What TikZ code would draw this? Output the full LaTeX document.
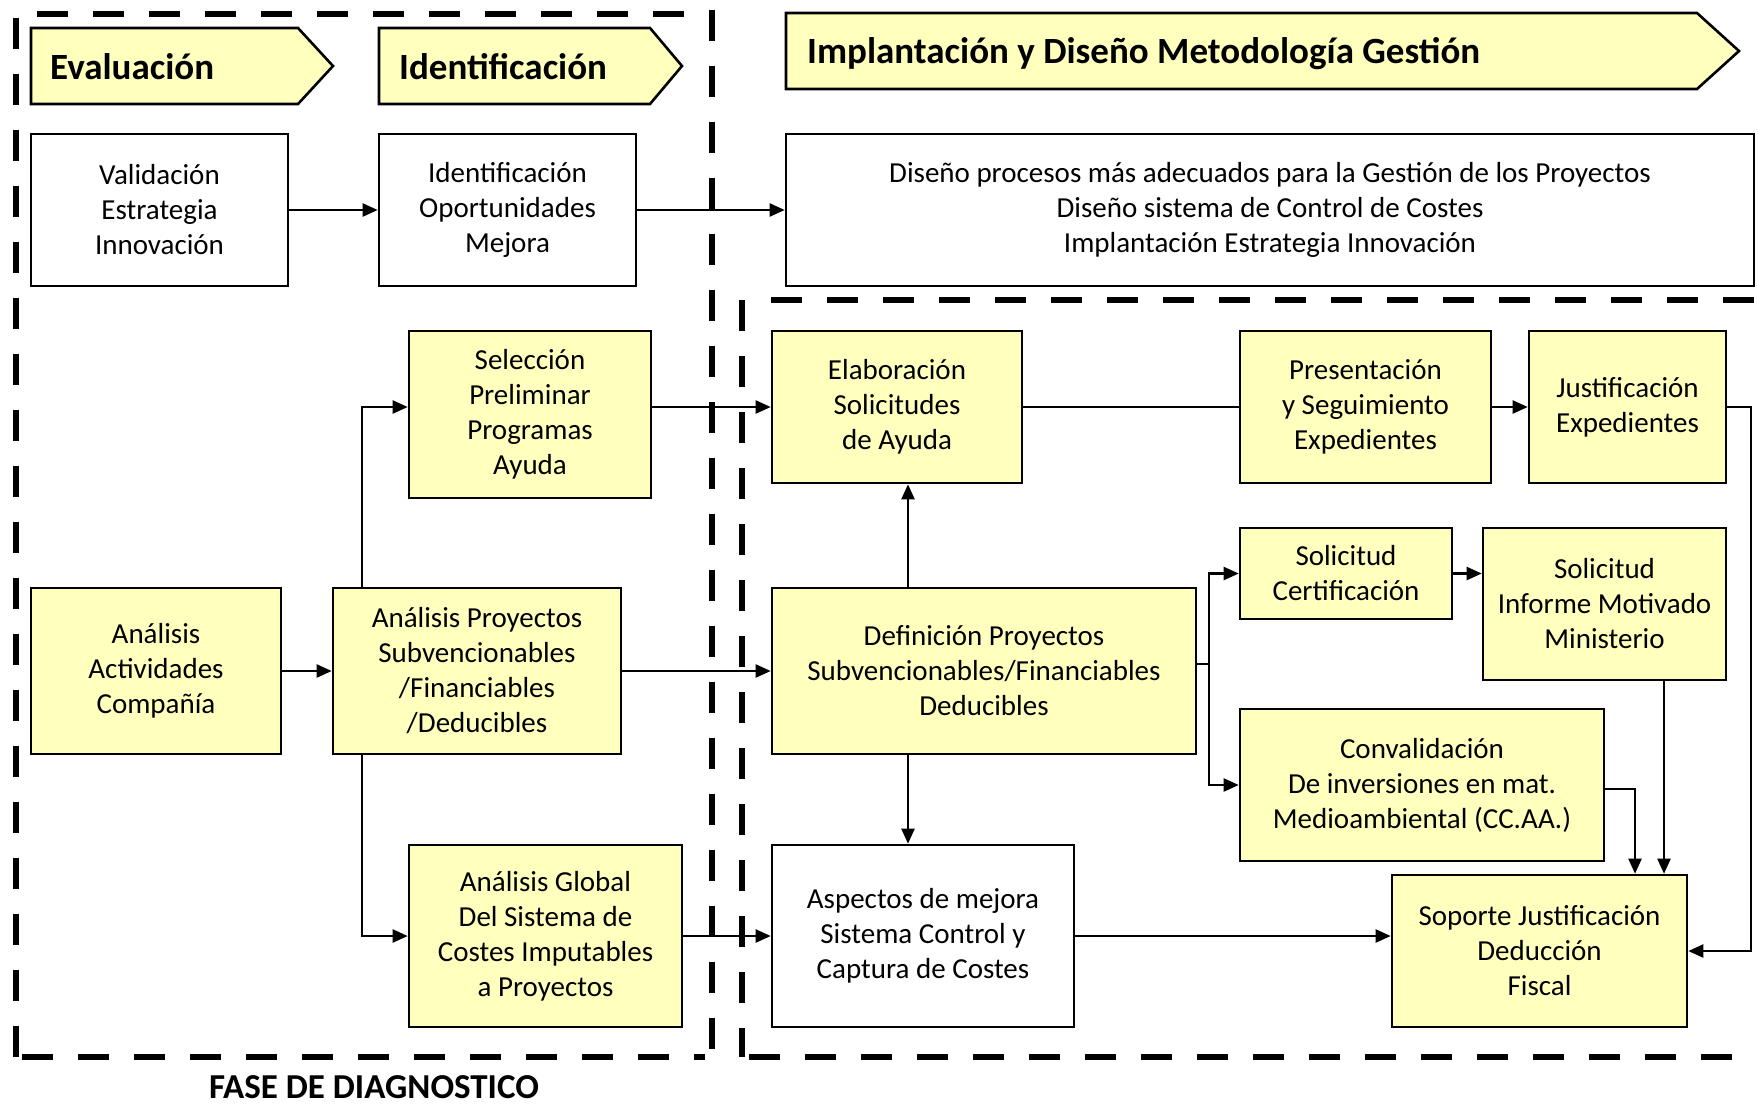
\documentclass[tikz,border=0pt]{standalone}
\usepackage{fontspec}
\setmainfont{Carlito}
\usetikzlibrary{arrows.meta}
\definecolor{paleyellow}{RGB}{255,255,190}
\begin{document}
\begin{tikzpicture}[x=1pt,y=-1pt,
  box/.style={draw, line width=2.6pt, inner sep=0pt, align=center,
    font=\fontsize{29}{35}\selectfont},
  ybox/.style={box, fill=paleyellow},
  wbox/.style={box, fill=white},
  arr/.style={line width=2.2pt, -{Triangle[length=15pt,width=13pt]}},
  link/.style={line width=2.2pt},
  zone/.style={line width=6.5pt, dash pattern=on 31pt off 25pt},
  chev/.style={draw, line width=2.6pt, fill=paleyellow, line join=miter},
  head/.style={anchor=base west, inner sep=0pt,
    font=\bfseries\fontsize{37}{44}\selectfont}
]
\useasboundingbox (0,0) rectangle (1758,1104);

% phase banners
\draw[chev] (31,28) -- (298,28) -- (333,66) -- (298,104) -- (31,104) -- cycle;
\node[head] (hEval) at (50,79) {Evaluación};
\draw[chev] (379,28) -- (650,28) -- (682,66) -- (650,104) -- (379,104) -- cycle;
\node[head] (hIden) at (399,79) {Identificación};
\draw[chev] (786,13) -- (1697,13) -- (1739,51) -- (1697,89) -- (786,89) -- cycle;
\node[head] (hImpl) at (807,63) {Implantación y Diseño Metodología Gestión};

% dashed zones
\draw[zone] (16,1057) -- (16,14);
\draw[zone] (37,14) -- (712,14);
\draw[zone] (712,10) -- (712,1057);
\draw[zone] (22,1057) -- (705,1057);
\draw[zone] (742,300) -- (742,1057);
\draw[zone] (771,300) -- (1758,300);
\draw[zone] (749,1057) -- (1740,1057);

\node[font=\bfseries\fontsize{35}{42}\selectfont, inner sep=0pt] (fase) at (374,1087) {FASE DE DIAGNOSTICO};

% top row
\node[wbox, minimum width=257pt, minimum height=152pt] (val) at (159.5,210)
  {Validación\\Estrategia\\Innovación};
\node[wbox, minimum width=257pt, minimum height=152pt] (opo) at (507.5,210)
  {Identificación\\Oportunidades\\Mejora};
\node[wbox, minimum width=968pt, minimum height=152pt] (big) at (1270,210)
  {Diseño procesos más adecuados para la Gestión de los Proyectos\\Diseño sistema de Control de Costes\\Implantación Estrategia Innovación};

% diagnostic phase
\node[ybox, minimum width=242pt, minimum height=167pt] (sel) at (530,414.5)
  {Selección\\Preliminar\\Programas\\Ayuda};
\node[ybox, minimum width=250pt, minimum height=166pt] (act) at (156,671)
  {Análisis\\Actividades\\Compañía};
\node[ybox, minimum width=288pt, minimum height=166pt] (ap) at (477,671)
  {Análisis Proyectos\\Subvencionables\\/Financiables\\/Deducibles};
\node[ybox, minimum width=273pt, minimum height=182pt] (glob) at (545.5,936)
  {Análisis Global\\Del Sistema de\\Costes Imputables\\a Proyectos};

% implementation phase
\node[ybox, minimum width=250pt, minimum height=152pt] (ela) at (897,407)
  {Elaboración\\Solicitudes\\de Ayuda};
\node[ybox, minimum width=251pt, minimum height=152pt] (pre) at (1365.5,407)
  {Presentación\\y Seguimiento\\Expedientes};
\node[ybox, minimum width=197pt, minimum height=152pt] (jus) at (1627.5,407)
  {Justificación\\Expedientes};
\node[ybox, minimum width=424pt, minimum height=166pt] (def) at (984,671)
  {Definición Proyectos\\Subvencionables/Financiables\\Deducibles};
\node[ybox, minimum width=212pt, minimum height=91pt] (cert) at (1346,573.5)
  {Solicitud\\Certificación};
\node[ybox, minimum width=243pt, minimum height=152pt] (inf) at (1604.5,604)
  {Solicitud\\Informe Motivado\\Ministerio};
\node[ybox, minimum width=364pt, minimum height=152pt] (conv) at (1422,785)
  {Convalidación\\De inversiones en mat.\\Medioambiental (CC.AA.)};
\node[wbox, minimum width=302pt, minimum height=182pt] (asp) at (923,936)
  {Aspectos de mejora\\Sistema Control y\\Captura de Costes};
\node[ybox, minimum width=295pt, minimum height=152pt] (sop) at (1539.5,951)
  {Soporte Justificación\\Deducción\\Fiscal};

% routing columns
\coordinate (vx) at (908,0);
\coordinate (br) at (1209,664);
\coordinate (ix) at (1664,0);
\coordinate (cv) at (1635,0);
\coordinate (rx) at (1751,0);

% connectors
\draw[arr] (val) -- (opo);
\draw[arr] (opo) -- (big);
\draw[arr] (act) -- (ap);
\draw[arr] (ap.north west) ++(30,0) |- ([yshift=7.5pt]sel.west);
\draw[arr] (ap.south west) ++(30,0) |- (glob.west);
\draw[arr] (sel.east |- ela.west) -- (ela.west);
\draw[arr] (ap) -- (def);
\draw[arr] (glob) -- (asp);
\draw[arr] (def.north -| vx) -- (ela.south -| vx);
\draw[arr] (def.south -| vx) -- (asp.north -| vx);
\draw[link] (ela) -- (pre);
\draw[arr] (pre) -- (jus);
\draw[link] (def.east |- br) -- (br);
\draw[arr] (br) |- (cert.west);
\draw[arr] (br) |- (conv.west);
\draw[arr] (cert.east) -- (cert.east -| inf.west);
\draw[arr] (inf.south -| ix) -- (sop.north -| ix);
\draw[arr] ([yshift=-4pt]conv.east) -| (sop.north -| cv);
\draw[arr] (jus.east) -- (jus.east -| rx) |- (sop.east);
\draw[arr] (asp.east) -- (asp.east -| sop.west);
\end{tikzpicture}
\end{document}
